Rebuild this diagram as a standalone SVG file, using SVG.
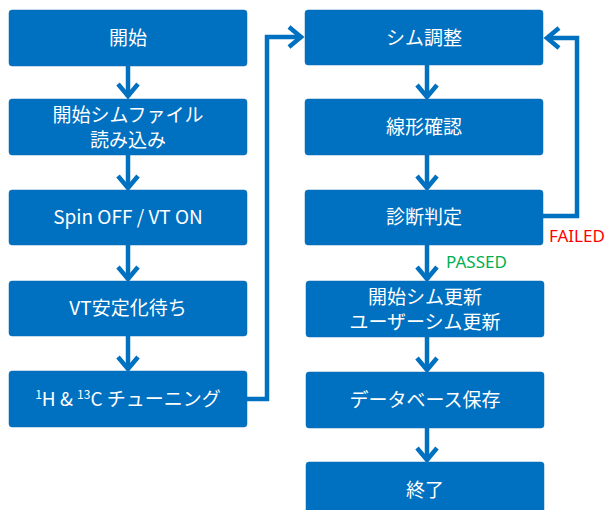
<svg xmlns="http://www.w3.org/2000/svg" width="609" height="510" viewBox="0 0 609 510">
<style>
.box{fill:#0070C0;stroke:#0d6ab0;stroke-width:0.5}
.t{font-family:"Noto Sans CJK JP","Noto Sans",sans-serif;font-size:19px;fill:#fff;text-anchor:middle}
.c{fill:none;stroke:#0070C0;stroke-width:4.5;stroke-linejoin:miter}
.h{fill:none;stroke:#0070C0;stroke-width:4.5;stroke-linecap:butt;stroke-linejoin:miter}
.lbl{font-family:"Noto Sans","Liberation Sans",sans-serif;font-size:17px}
</style>
<rect width="609" height="510" fill="#fff"/>
<g id="connectors">
<path class="c" d="M128 66V97"/><path class="h" d="M118 84L128 96L138 84"/>
<path class="c" d="M128 155V188"/><path class="h" d="M118 176L128 188L138 176"/>
<path class="c" d="M128 245V279"/><path class="h" d="M118 267L128 279L138 267"/>
<path class="c" d="M128 336V369"/><path class="h" d="M118 357L128 369L138 357"/>
<path class="c" d="M247 399H267V37H301"/><path class="h" d="M289 27L301 37L289 47"/>
<path class="c" d="M427 65V97"/><path class="h" d="M417 85L427 97L437 85"/>
<path class="c" d="M427 155V188"/><path class="h" d="M417 176L427 188L437 176"/>
<path class="c" d="M427 245V279"/><path class="h" d="M417 267L427 279L437 267"/>
<path class="c" d="M427 337V370"/><path class="h" d="M417 358L427 370L437 358"/>
<path class="c" d="M427 428V460"/><path class="h" d="M417 448L427 460L437 448"/>
<path class="c" d="M543 216H577V38H547"/><path class="h" d="M559 28L547 38L559 48"/>
<text class="lbl" x="549" y="242" fill="#FF0000">FAILED</text>
<text class="lbl" x="446" y="268" fill="#00B050">PASSED</text>
</g>
<g id="n1"><rect class="box" x="9" y="10" width="238" height="56" rx="3"/><text class="t" x="128" y="45">開始</text></g>
<g id="n2"><rect class="box" x="9" y="99" width="238" height="56" rx="3"/><text class="t" x="128" y="122">開始シムファイル</text><text class="t" x="128" y="147">読み込み</text></g>
<g id="n3"><rect class="box" x="9" y="190" width="238" height="55" rx="3"/><text class="t" x="128" y="224">Spin OFF / VT ON</text></g>
<g id="n4"><rect class="box" x="9" y="281" width="238" height="55" rx="3"/><text class="t" x="128" y="315">VT安定化待ち</text></g>
<g id="n5"><rect class="box" x="9" y="371" width="238" height="56" rx="3"/><text class="t" x="128" y="406"><tspan font-size="12" dy="-7">1</tspan><tspan dy="7">H &amp; </tspan><tspan font-size="12" dy="-7">13</tspan><tspan dy="7">C チューニング</tspan></text></g>
<g id="n6"><rect class="box" x="305" y="10" width="238" height="55" rx="3"/><text class="t" x="424" y="45">シム調整</text></g>
<g id="n7"><rect class="box" x="305" y="99" width="238" height="56" rx="3"/><text class="t" x="424" y="134">線形確認</text></g>
<g id="n8"><rect class="box" x="305" y="190" width="238" height="55" rx="3"/><text class="t" x="424" y="224">診断判定</text></g>
<g id="n9"><rect class="box" x="306" y="281" width="238" height="56" rx="3"/><text class="t" x="425" y="304">開始シム更新</text><text class="t" x="425" y="329">ユーザーシム更新</text></g>
<g id="n10"><rect class="box" x="306" y="372" width="238" height="56" rx="3"/><text class="t" x="425" y="407">データベース保存</text></g>
<g id="n11"><rect class="box" x="306" y="462" width="238" height="56" rx="3"/><text class="t" x="425" y="497">終了</text></g>
</svg>
